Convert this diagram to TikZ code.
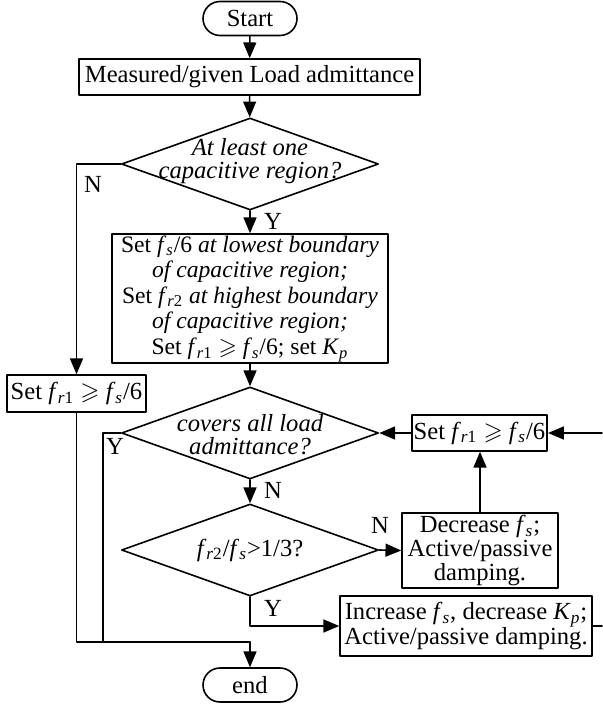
\documentclass[tikz,border=0pt]{standalone}
\usepackage{fontspec}
\setmainfont{Liberation Serif}
\usepackage{amssymb}
\usetikzlibrary{arrows,shapes.geometric,positioning}

\newcommand{\fv}[1]{\textit{f}\textsubscript{#1}}
\newcommand{\kp}{\textit{K}\textsubscript{\textit{p}}}

\tikzset{
  blk/.style={draw,line width=0.8pt,inner sep=1pt,align=center},
  term/.style={draw,line width=0.8pt,rounded corners=8.5pt,minimum width=47pt,minimum height=17pt},
  decis/.style={draw,diamond,line width=0.8pt,minimum width=128.5pt,minimum height=46pt,inner sep=0pt},
  lbl/.style={inner sep=0pt,align=center},
}

\begin{document}
\begin{tikzpicture}[line cap=round,line join=round,>=triangle 45,x=0.5pt,y=-0.5pt,
		line width=0.8pt,font=\fontsize{12.3pt}{11.5pt}\selectfont]
		\useasboundingbox (0,0) rectangle (602,704);
		% main column
		\node[term] (start) at (250,18.5) {Start};
		\node[blk,minimum width=170.5pt,minimum height=18pt] (meas) at (249.5,77) {Measured/given Load admittance};
		\node[decis] (capq) at (250,164) {};
		\node[lbl] (capqtxt) at (250,161) {\itshape At least one\\\itshape capacitive region?};
		\node[blk,minimum width=138pt,minimum height=64.5pt,inner sep=0.5pt,font=\fontsize{11.8pt}{12.8pt}\selectfont] (setcap) at (250,298.5) {Set \fv{\textit{s}}/6 \textit{at lowest boundary}\\
			\textit{of capacitive region;}\\
			Set \fv{\textit{r}2} \textit{at highest boundary}\\
			\textit{of capacitive region;}\\
			Set \fv{\textit{r}1} $\geqslant$ \fv{\textit{s}}/6; set \kp};
		\node[decis] (covq) at (250,433) {};
		\node[lbl] (covqtxt) at (250,435) {\itshape covers all load\\\itshape admittance?};
		\node[decis] (ratq) at (250,550) {};
		\node[lbl] (ratqtxt) at (250,550) {\fv{\textit{r}2}/\fv{\textit{s}}>1/3?};
		\node[term] (stop) at (250,685) {end};
		% side boxes
		\node[blk,minimum width=69.5pt,minimum height=18.5pt] (setl) at (76.5,393.5) {Set \fv{\textit{r}1} $\geqslant$ \fv{\textit{s}}/6};
		\node[blk,minimum width=67.5pt,minimum height=18pt] (setr) at (479.5,433) {Set \fv{\textit{r}1} $\geqslant$ \fv{\textit{s}}/6};
		\node[blk,minimum width=78pt,minimum height=37.5pt,font=\fontsize{12.3pt}{12pt}\selectfont] (decf) at (480,550.5) {Decrease \fv{\textit{s}};\\Active/passive\\damping.};
		\node[blk,minimum width=126pt,minimum height=30pt,font=\fontsize{12.3pt}{12.5pt}\selectfont] (incf) at (466,626) {Increase \fv{\textit{s}}, decrease \kp;\\Active/passive damping.};
		% Y/N marks
		\node[lbl] (n1) at (93,184) {N};
		\node[lbl] (y1) at (273,221) {Y};
		\node[lbl] (y2) at (115,446) {Y};
		\node[lbl] (n2) at (273,490) {N};
		\node[lbl] (n3) at (380,525) {N};
		\node[lbl] (y3) at (273,608) {Y};
		\coordinate (rin) at (602,433);
		\coordinate (rout) at (602,626);
		\coordinate (join) at (250,642);
		\coordinate (ybend) at (103,433);
		% connectors
		\draw[->] (start) -- (meas);
		\draw[->] (meas) -- (capq);
		\draw[->] (capq) -- (setcap);
		\draw[->] (capq.west) -| (setl.north);
		\draw[->] (setcap) -- (covq);
		\draw[->] (covq) -- (ratq);
		\draw[->] (ratq.east) -- (decf.west);
		\draw[->] (decf.north) -- (decf.north |- setr.south);
		\draw[->] (setr.west) -- (covq.east);
		\draw[->] (ratq.south) |- (incf.west);
		\draw (incf.east) -- (rout);
		\draw[->] (rin) -- (setr.east);
		\draw (covq.west) -- (ybend) |- (join);
		\draw[->] (setl.south) |- (join) -- (stop.north);
\end{tikzpicture}
\end{document}
